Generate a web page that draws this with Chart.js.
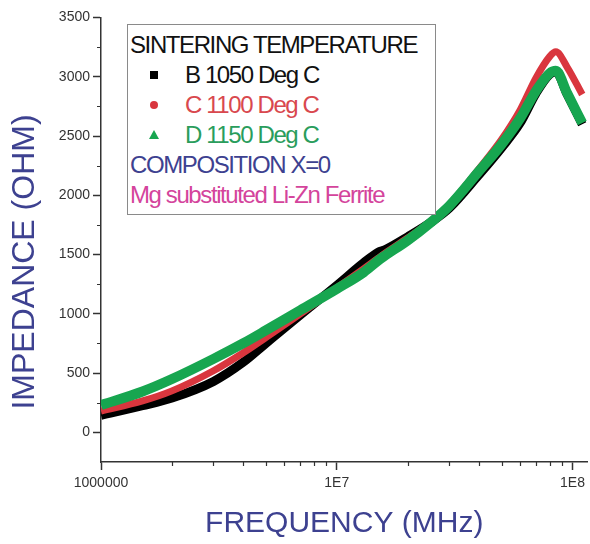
<!DOCTYPE html>
<html>
<head>
<meta charset="utf-8">
<script src="https://cdn.jsdelivr.net/npm/chart.js@4.4.1/dist/chart.umd.min.js"></script>
<style>
    html, body { margin: 0; padding: 0; background: #fff; }
    #wrap { position: relative; width: 590px; height: 544px; }
    #legend {
        position: absolute; left: 127px; top: 24px; width: 309px; height: 191px;
        box-sizing: border-box; border: 1px solid #8a8a8a; background: #fff;
        padding: 5px 0 0 2px;
        font-family: 'Liberation Sans', Arial, sans-serif; font-size: 24px;
        letter-spacing: -1.4px; line-height: 30px; white-space: nowrap;
    }
    #legend .row { position: relative; height: 30px; }
    #legend .item { padding-left: 55px; }
    #legend .mk { position: absolute; left: 20px; top: 11px; width: 8px; height: 8px; }
    #legend .sq { background: #000; }
    #legend .ci { background: #d9363e; border-radius: 50%; }
    #legend .tr { width: 0; height: 0; left: 19px; top: 10px; border-left: 5px solid transparent; border-right: 5px solid transparent; border-bottom: 9px solid #17a650; }
</style>
</head>
<body>
<div id="wrap">
    <canvas id="chart" width="590" height="544"></canvas>
    <div id="legend">
        <div class="row" style="color:#111;">SINTERING TEMPERATURE</div>
        <div class="row item" style="color:#111;"><span class="mk sq"></span>B 1050 Deg C</div>
        <div class="row item" style="color:#d9484e;"><span class="mk ci"></span>C 1100 Deg C</div>
        <div class="row item" style="color:#2a9d5c;"><span class="mk tr"></span>D 1150 Deg C</div>
        <div class="row" style="color:#3d4190;">COMPOSITION X=0</div>
        <div class="row" style="color:#d4449c;">Mg substituted Li-Zn Ferrite</div>
    </div>
</div>
<script>
// frequency (Hz) and impedance (ohm)
const freq = [1e6, 1.5e6, 2e6, 3e6, 4e6, 5e6, 7e6, 1e7, 1.3e7, 1.5e7, 1.6e7, 2e7, 2.5e7, 3e7, 4e7, 5e7, 6e7, 7e7, 8e7, 8.5e7, 9.5e7, 1.1e8];
const impB1050 = [144, 225, 290, 430, 590, 750, 990, 1240, 1430, 1520, 1540, 1650, 1770, 1890, 2170, 2400, 2610, 2860, 3020, 3040, 2850, 2600];
const impC1100 = [180, 265, 350, 520, 670, 800, 1000, 1220, 1380, 1470, 1510, 1640, 1780, 1920, 2220, 2470, 2720, 2990, 3170, 3210, 3080, 2850];
const impD1150 = [230, 345, 450, 620, 750, 860, 1030, 1210, 1350, 1450, 1490, 1620, 1770, 1910, 2200, 2430, 2650, 2880, 3030, 3050, 2860, 2610];

const xTickValues = [1e6, 1e7, 1e8];
const xTickLabels = ['1000000', '1E7', '1E8'];
const xMinorValues = [2e6, 3e6, 4e6, 5e6, 6e6, 7e6, 8e6, 9e6, 2e7, 3e7, 4e7, 5e7, 6e7, 7e7, 8e7, 9e7];
const yTickValues = [0, 500, 1000, 1500, 2000, 2500, 3000, 3500];
const yMinorValues = [250, 750, 1250, 1750, 2250, 2750, 3250];

const AXIS = '#333';
const TITLE_BLUE = '#3d4190';
const SANS = "'Liberation Sans', Arial, sans-serif";

function series(values) {
    return values.map((v, i) => ({ x: freq[i], y: v }));
}

// short ticks between the labelled ones
const minorTicks = {
    id: 'minorTicks',
    afterDraw(chart) {
        const { ctx, scales: { x, y } } = chart;
        ctx.save();
        ctx.strokeStyle = AXIS;
        ctx.lineWidth = 1.2;
        ctx.beginPath();
        xMinorValues.forEach(v => {
            const px = Math.round(x.getPixelForValue(v)) + 0.5;
            ctx.moveTo(px, x.top);
            ctx.lineTo(px, x.top + 4);
        });
        yMinorValues.forEach(v => {
            const py = Math.round(y.getPixelForValue(v)) + 0.5;
            ctx.moveTo(y.right, py);
            ctx.lineTo(y.right - 4, py);
        });
        ctx.stroke();
        ctx.restore();
    }
};

new Chart(document.getElementById('chart'), {
    type: 'line',
    data: {
        datasets: [
            { label: 'B 1050 Deg C', data: series(impB1050), borderColor: '#000', borderWidth: 9, order: 3 },
            { label: 'C 1100 Deg C', data: series(impC1100), borderColor: '#d9363e', borderWidth: 7, order: 2 },
            { label: 'D 1150 Deg C', data: series(impD1150), borderColor: '#17a650', borderWidth: 10, order: 1 }
        ]
    },
    options: {
        responsive: false,
        animation: false,
        devicePixelRatio: 1,
        layout: { padding: { top: 17.5, right: 2, left: 0, bottom: 0 } },
        elements: {
            point: { radius: 0 },
            line: { cubicInterpolationMode: 'monotone', borderCapStyle: 'butt', borderJoinStyle: 'round' }
        },
        plugins: { legend: { display: false }, tooltip: { enabled: false } },
        scales: {
            x: {
                type: 'logarithmic',
                min: 1e6,
                max: 1.158e8,
                afterBuildTicks: s => { s.ticks = xTickValues.map(v => ({ value: v })); },
                afterFit: s => { s.height = 82; },
                grid: { drawOnChartArea: false, drawTicks: true, tickLength: 8, tickColor: AXIS, tickWidth: 1.5 },
                border: { color: AXIS, width: 1.5 },
                ticks: {
                    autoSkip: false, maxRotation: 0, padding: 5, color: '#333',
                    font: { family: SANS, size: 14 },
                    callback: (v, i) => xTickLabels[i]
                },
                title: {
                    display: true, text: 'FREQUENCY (MHz)', color: TITLE_BLUE,
                    font: { family: SANS, size: 30 }, padding: { top: 0, bottom: 2 }
                }
            },
            y: {
                min: -250,
                max: 3500,
                afterBuildTicks: s => { s.ticks = yTickValues.map(v => ({ value: v })); },
                afterFit: s => { s.width = 101; },
                grid: { drawOnChartArea: false, drawTicks: true, tickLength: 8, tickColor: AXIS, tickWidth: 1.5 },
                border: { color: AXIS, width: 1.5 },
                ticks: {
                    autoSkip: false, padding: 3, color: '#333',
                    font: { family: SANS, size: 14 },
                    callback: v => String(v)
                },
                title: {
                    display: true, text: 'IMPEDANCE (OHM)     ', color: TITLE_BLUE,
                    font: { family: SANS, size: 32 }, padding: { top: 6, bottom: 0 }
                }
            }
        }
    },
    plugins: [minorTicks]
});
</script>
</body>
</html>
